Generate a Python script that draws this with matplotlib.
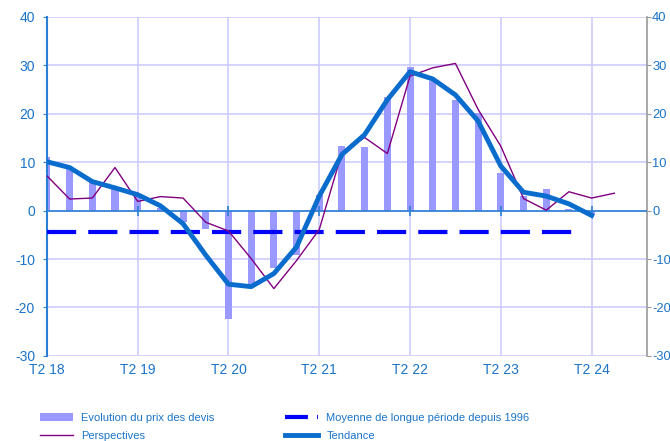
import matplotlib.pyplot as plt
from matplotlib.lines import Line2D
import numpy as np

plt.rcParams['font.family'] = ['Liberation Sans', 'DejaVu Sans']
plt.rcParams['axes.unicode_minus'] = False

# quarterly data, T2 18 .. T4 24
evolution = [11.0, 8.5, 5.9, 4.8, 3.1, 0.5, -2.4, -3.8, -22.4, -15.8, -11.8, -9.2,
             3.2, 13.3, 13.1, 23.5, 29.7, 26.8, 22.9, 20.2, 7.7, 3.0, 4.4, 0.3, -0.8]
tendance = [10.1, 8.9, 6.0, 4.7, 3.3, 1.0, -2.7, -9.2, -15.2, -15.7, -13.0, -7.5,
            3.0, 11.6, 15.7, 22.9, 28.7, 27.2, 23.9, 18.5, 9.2, 3.8, 3.0, 1.4, -1.0]
perspectives = [7.2, 2.4, 2.6, 8.9, 1.9, 2.9, 2.6, -2.4, -4.2, -9.9, -16.1, -10.3,
                -3.9, 12.0, 15.1, 11.8, 27.8, 29.5, 30.4, 20.9, 13.3, 2.5, 0.1, 3.9, 2.6, 3.6]
moyenne = -4.5
tick_labels = ["T2 18", "T2 19", "T2 20", "T2 21", "T2 22", "T2 23", "T2 24"]

blue_txt = "#1a73c8"
grid_col = "#ccccff"


def main():
    fig = plt.figure(figsize=(6.7, 4.41), dpi=100)
    ax = fig.add_axes([0.070, 0.193, 0.896, 0.7685])

    x_ev = np.arange(len(evolution))
    x_td = np.arange(len(tendance))
    x_ps = np.arange(len(perspectives))
    x_ticks = np.arange(len(tick_labels)) * 4

    ax.set_xlim(0, 26.45)
    ax.set_ylim(-30, 40)

    for y in np.arange(-30, 41, 10):
        ax.axhline(y, color=grid_col, lw=1.2, zorder=0)
    for x in x_ticks[1:]:
        ax.axvline(x, color=grid_col, lw=1.2, zorder=0)

    bars = ax.bar(x_ev, evolution, width=0.31, color="#9999ff", zorder=2,
                  label="Evolution du prix des devis")
    ax.axhline(0, color="#2a7fd4", lw=1.2, zorder=3)
    ax.plot(x_ticks, np.zeros(len(x_ticks)), ls="none", marker="|",
            ms=7, mew=1.2, color="#2a7fd4", zorder=3)
    ax.plot([0, len(evolution) - 1.5], [moyenne, moyenne], color="#0000ff",
            lw=3, dashes=(7, 2.9), zorder=4)
    l_p, = ax.plot(x_ps, perspectives, color="#800080", lw=1, zorder=5,
                   label="Perspectives")
    l_t, = ax.plot(x_td, tendance, color="#0a6ccc", lw=3.5, zorder=6,
                   solid_joinstyle="round", label="Tendance")
    l_m = Line2D([], [], color="#0000ff", lw=3, dashes=(5.5, 2.2, 0.6, 2.2))

    ax.set_xticks(x_ticks)
    ax.set_xticklabels(tick_labels)
    ax.set_yticks(np.arange(-30, 41, 10))
    ax.tick_params(axis="x", length=0, pad=5, labelsize=10, labelcolor=blue_txt)
    ax.tick_params(axis="y", length=3, color="#2a7fd4", labelsize=10,
                   labelcolor=blue_txt, pad=5.5)
    for s in ["top", "bottom"]:
        ax.spines[s].set_visible(False)
    ax.spines["left"].set_color("#2a7fd4")
    ax.spines["left"].set_linewidth(1.5)
    ax.spines["right"].set_color("#999999")
    ax.spines["right"].set_linewidth(1.2)

    ax2 = ax.twinx()
    ax2.set_ylim(-30, 40)
    ax2.set_yticks(np.arange(-30, 41, 10))
    ax2.tick_params(axis="y", length=3, color="#999999", labelsize=9.3,
                    labelcolor=blue_txt, pad=0.5)
    for s in ax2.spines.values():
        s.set_visible(False)

    leg_kw = dict(loc="lower left", frameon=False, fontsize=8, handlelength=3.0,
                  labelspacing=0.75, handletextpad=0.72, borderpad=0,
                  borderaxespad=0)
    leg1 = fig.legend([bars, l_p], [bars.get_label(), l_p.get_label()],
                      bbox_to_anchor=(40 / 670, 0.0), **leg_kw)
    leg2 = fig.legend([l_m, l_t], ["Moyenne de longue période depuis 1996", "Tendance"],
                      bbox_to_anchor=(285 / 670, 0.0), **leg_kw)
    for leg in (leg1, leg2):
        for t in leg.get_texts():
            t.set_color(blue_txt)

    fig.savefig("out.png", dpi=100)


if __name__ == "__main__":
    main()
